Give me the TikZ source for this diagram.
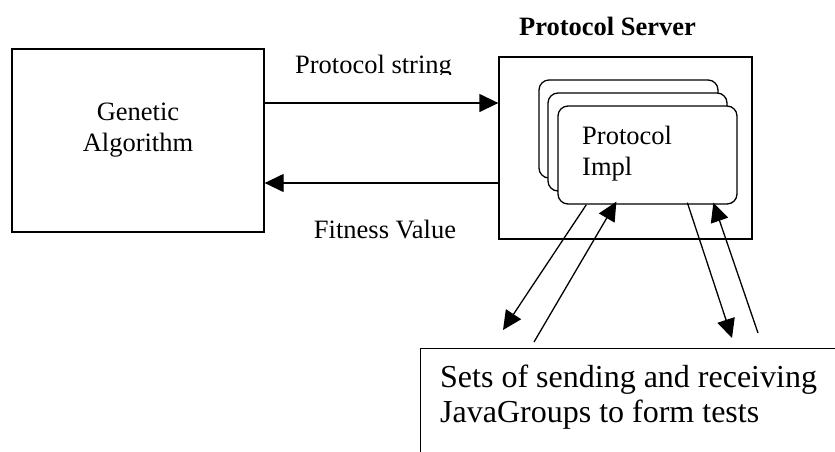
\documentclass[tikz,border=0pt]{standalone}
\usepackage{fontspec}
\setmainfont{Liberation Serif}
\usetikzlibrary{arrows.meta}
\tikzset{
  box/.style={draw, line width=1.3pt, inner sep=0pt},
  impl/.style={draw, line width=1.3pt, rounded corners=10pt, fill=white,
    minimum width=179pt, minimum height=98pt, inner sep=0pt},
  arr/.style={line width=1.3pt, -{Triangle[length=19pt,width=18pt]}},
  lbl/.style={inner sep=0pt, font=\fontsize{26.5}{31}\selectfont},
  biglbl/.style={inner sep=0pt, font=\fontsize{32}{35.5}\selectfont}
}
\begin{document}
\begin{tikzpicture}[x=1pt, y=-1pt]
\useasboundingbox (0,0) rectangle (835,451);
\clip (0,0) rectangle (835,451);

% Genetic algorithm block
\node[box, minimum width=252pt, minimum height=183pt] (ga) at (138,140.5) {};
\node[lbl, anchor=base, align=center] (galbl) at (138,151.5) {Genetic\\Algorithm};

% Protocol server with its stacked implementations
\node[box, minimum width=253pt, minimum height=182pt] (srv) at (625.5,148) {};
\node[lbl, font=\fontsize{26.5}{31}\selectfont\bfseries, anchor=base] (srvlbl) at (607.5,35) {Protocol Server};
\node[impl] (implc) at (628.5,129) {};
\node[impl] (implb) at (637.5,142) {};
\node[impl] (impla) at (647.5,155) {};
\node[lbl, anchor=base west, align=left] (impllbl) at (582,175) {Protocol\\Impl};

% Messages between the two blocks
\draw[arr] (ga.east |- 0,103) -- (srv.west |- 0,103);
\draw[arr] (srv.west |- 0,183) -- (ga.east |- 0,183);
\begin{scope}
  \clip (280,40) rectangle (470,74.5);
  \node[lbl, anchor=base] (pstr) at (373.5,73) {Protocol string};
\end{scope}
\node[lbl, anchor=base] (fit) at (385,238) {Fitness Value};

% Test groups
\node[box, anchor=north west, minimum width=440pt, minimum height=130pt] (tests) at (420,348) {};
\node[biglbl, anchor=base west, align=left] (testlbl) at (440,422.5) {Sets of sending and receiving\\JavaGroups to form tests};

\coordinate (s1) at (503,330);
\coordinate (s2) at (534,342);
\coordinate (s3) at (732,338);
\coordinate (s4) at (758,333);
\draw[arr] ([xshift=29pt]impla.south west) -- (s1);
\draw[arr] (s2) -- ([xshift=59pt,yshift=3pt]impla.south west);
\draw[arr] ([xshift=130pt,yshift=2pt]impla.south west) -- (s3);
\draw[arr] (s4) -- ([xshift=156pt,yshift=2pt]impla.south west);
\end{tikzpicture}
\end{document}
